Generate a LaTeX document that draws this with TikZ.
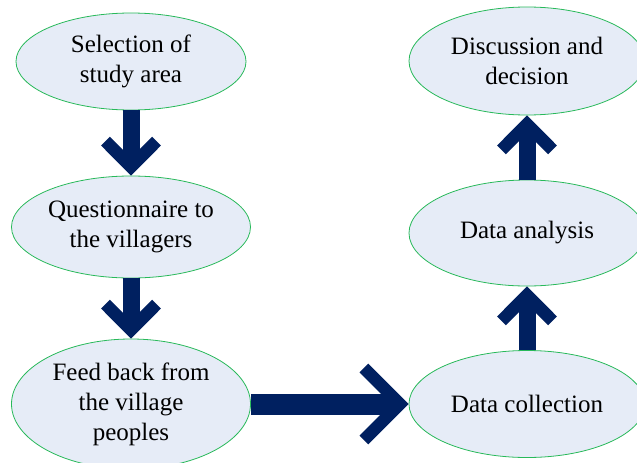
\documentclass[tikz,border=0pt]{standalone}
\usepackage{fontspec}
\setmainfont{Liberation Serif}
\usetikzlibrary{arrows.meta}
\usetikzlibrary{shapes.geometric}
\definecolor{navy}{RGB}{0,32,96}
\definecolor{paleblue}{RGB}{230,236,247}
\definecolor{rimgreen}{RGB}{40,185,90}
\tikzset{stage/.style={ellipse, draw=rimgreen, line width=0.8pt, fill=paleblue,
  inner sep=0pt, align=center, font=\fontsize{25}{30}\selectfont}}
\tikzset{flow/.style={draw=navy, line width=17pt,
  -{Straight Barb[length=25.6pt, width=51pt, line width=12.5pt]}}}
\tikzset{bigflow/.style={draw=navy, line width=21pt,
  -{Straight Barb[length=36pt, width=72pt, line width=12.3pt]}}}

\begin{document}
\begin{tikzpicture}[x=1pt, y=-1pt]
      \useasboundingbox (0, 0) rectangle (637, 463);

      \node [stage, minimum width=230pt, minimum height=97pt] (sel) at (131, 61.5) {Selection of\\study area};
      \node [stage, minimum width=239pt, minimum height=102pt] (quest) at (131, 227) {Questionnaire to\\the villagers};
      \node [stage, minimum width=239pt, minimum height=130pt] (feed) at (131, 404) {Feed back from\\the village\\peoples};

      \node [stage, minimum width=236pt, minimum height=108pt] (disc) at (527, 61) {Discussion and\\decision};
      \node [stage, minimum width=236pt, minimum height=106pt] (anal) at (527, 233) {Data analysis};
      \node [stage, minimum width=236pt, minimum height=107pt] (coll) at (527, 404) {Data collection};

      \draw [flow] (sel.south) -- (quest.north);
      \draw [flow] (quest.south) -- (feed.north);
      \draw [bigflow] (feed.east) -- (coll.west);
      \draw [flow] (coll.north) -- (anal.south);
      \draw [flow] (anal.north) -- (disc.south);
    \end{tikzpicture}
\end{document}
